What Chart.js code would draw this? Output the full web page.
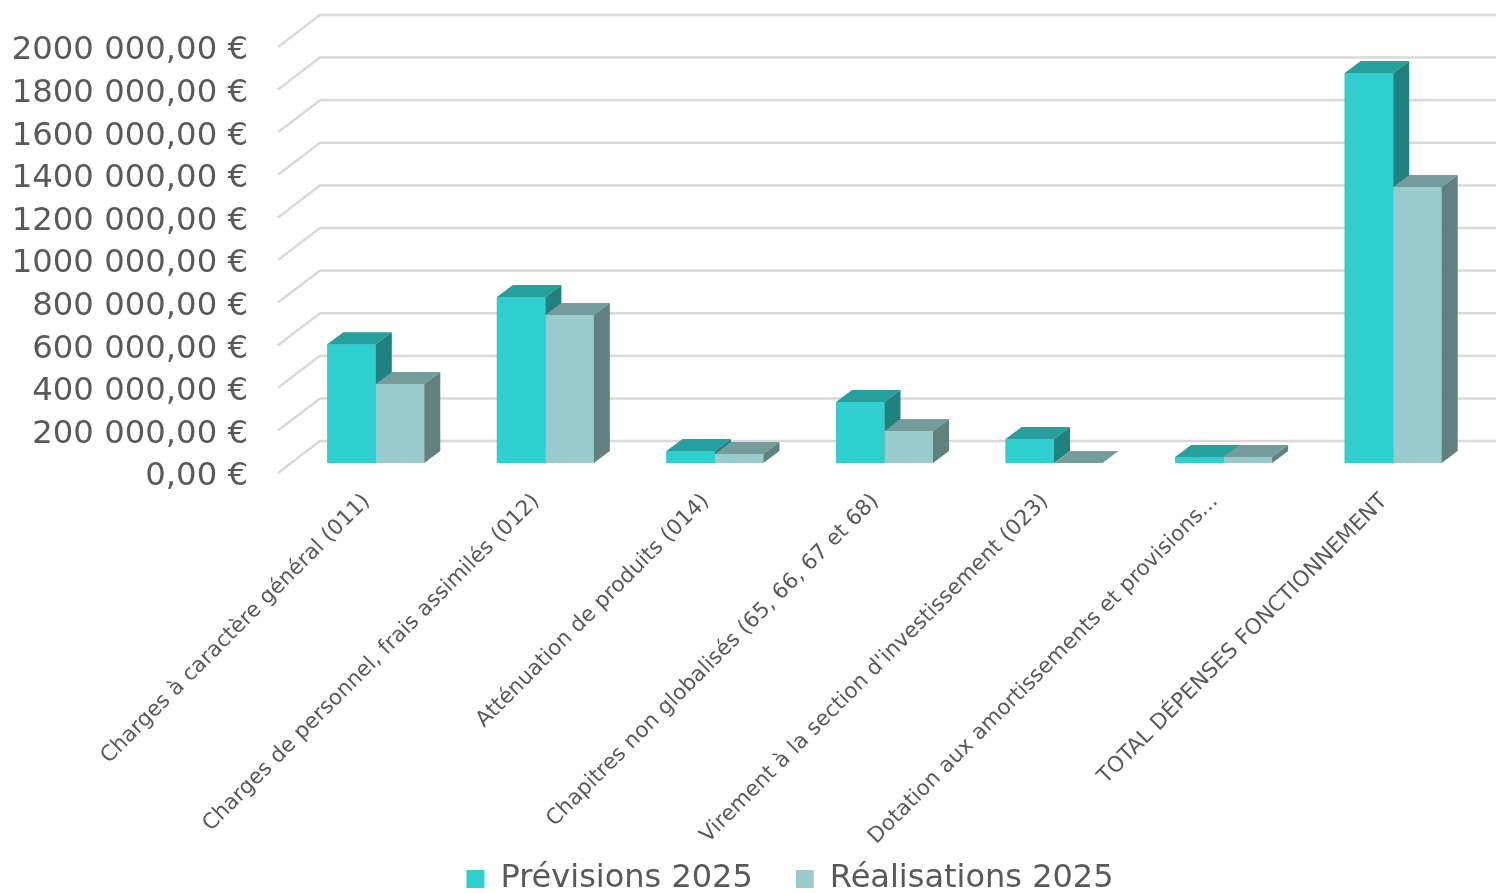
<!DOCTYPE html>
<html>
<head>
<meta charset="utf-8">
<title>Dépenses de fonctionnement 2025</title>
<script src="https://cdn.jsdelivr.net/npm/chart.js@4"></script>
<style>
  html, body { margin: 0; padding: 0; background: #fff; overflow: hidden; }
  canvas { display: block; }
</style>
</head>
<body>
<canvas id="chart" width="1496" height="893"></canvas>
<script>
// donnees
const categories = [
    'Charges à caractère général (011)',
    'Charges de personnel, frais assimilés (012)',
    'Atténuation de produits (014)',
    'Chapitres non globalisés (65, 66, 67 et 68)',
    "Virement à la section d'investissement (023)",
    'Dotation aux amortissements et provisions...',
    'TOTAL DÉPENSES FONCTIONNEMENT'
];
const previsions = [558000, 779000, 56000, 286000, 113000, 28000, 1831000];
const realisations = [371000, 695000, 42000, 150000, 0, 28000, 1296000];
const yTicks = [0, 200000, 400000, 600000, 800000, 1000000, 1200000, 1400000, 1600000, 1800000, 2000000];

const colors = {
    prev: { front: '#30cfcf', top: '#269f9d', side: '#20827f' },
    real: { front: '#99cbcc', top: '#749c9a', side: '#618180' }
};
const depthX = 16, depthY = 12;      // profondeur des barres
const wallX = 41, wallY = 32;        // profondeur du mur du fond
const textColor = '#595959';
const gridColor = '#d9d9d9';

function face(ctx, pts, color) {
    ctx.fillStyle = color;
    ctx.beginPath();
    ctx.moveTo(pts[0][0], pts[0][1]);
    pts.slice(1).forEach(p => ctx.lineTo(p[0], p[1]));
    ctx.closePath();
    ctx.fill();
}

// grille en perspective (mur du fond + diagonales)
const wallPlugin = {
    id: 'wall',
    beforeDatasetsDraw(chart) {
        const ctx = chart.ctx;
        const y = chart.scales.y;
        const left = y.right - 12;
        ctx.save();
        ctx.strokeStyle = gridColor;
        ctx.lineWidth = 2.5;
        yTicks.forEach(v => {
            const py = y.getPixelForValue(v);
            ctx.beginPath();
            ctx.moveTo(left - 1, py);
            ctx.lineTo(left + wallX, py - wallY);
            ctx.lineTo(chart.width, py - wallY);
            ctx.stroke();
        });
        ctx.restore();
    }
};

// redessine les barres de gauche a droite avec leurs faces du dessus et de droite
const facesPlugin = {
    id: 'faces',
    afterDatasetsDraw(chart) {
        const ctx = chart.ctx;
        chart.data.datasets.forEach((ds, i) => {
            chart.getDatasetMeta(i).data.forEach(bar => {
                const l = bar.x - bar.width / 2, r = bar.x + bar.width / 2;
                const t = bar.y, b = bar.base;
                bar.draw(ctx);
                face(ctx, [[l, t], [r, t], [r + depthX, t - depthY], [l + depthX, t - depthY]], ds.faces.top);
                if (b - t > 0.5) {
                    face(ctx, [[r, t], [r + depthX, t - depthY], [r + depthX, b - depthY], [r, b]], ds.faces.side);
                }
            });
        });
    }
};

// la legende n'est pas centree dans l'original, et les libelles descendent jusqu'a elle
const legendPlugin = {
    id: 'legendShift',
    afterLayout(chart) {
        const legend = chart.legend;
        legend.left += 51;
        legend.right += 51;
        legend.top = 820;
        chart.scales.x.bottom = 860;
        chart.scales.x.height = 387;
    }
};

new Chart(document.getElementById('chart'), {
    type: 'bar',
    data: {
        labels: categories,
        datasets: [
            { label: 'Prévisions 2025', data: previsions, yAxisID: 'bars', backgroundColor: colors.prev.front, faces: colors.prev },
            { label: 'Réalisations 2025', data: realisations, yAxisID: 'bars', backgroundColor: colors.real.front, faces: colors.real }
        ]
    },
    options: {
        responsive: false,
        animation: false,
        layout: { padding: { top: 47, right: 18, left: 0, bottom: 0 } },
        datasets: { bar: { barPercentage: 1, categoryPercentage: 0.572 } },
        plugins: {
            tooltip: { enabled: false },
            legend: {
                position: 'bottom',
                labels: {
                    color: textColor,
                    font: { family: 'DejaVu Sans', size: 32 },
                    boxWidth: 18,
                    boxHeight: 18,
                    padding: 43
                }
            }
        },
        scales: {
            x: {
                grid: { display: false },
                border: { display: false },
                afterFit(scale) { scale.height = 335; },
                ticks: {
                    color: textColor,
                    font: { family: 'DejaVu Sans', size: 21.5 },
                    autoSkip: false,
                    minRotation: 45,
                    maxRotation: 45,
                    labelOffset: -9,
                    padding: 8
                }
            },
            y: {
                min: 0,
                max: 2000000,
                grid: { display: false },
                border: { display: false },
                afterFit(scale) {
                    scale.width = 291;
                    scale.paddingTop = 0;
                    scale.paddingBottom = 0;
                },
                afterBuildTicks(scale) { scale.ticks = yTicks.map(v => ({ value: v })); },
                ticks: {
                    color: textColor,
                    font: { family: 'DejaVu Sans', size: 32.3 },
                    autoSkip: false,
                    padding: 35,
                    labelOffset: 4,
                    callback: v => v === 0 ? '0,00 €' : (v / 1000) + ' 000,00 €'
                }
            },
            // meme hauteur de pixels mais le zero des barres est 10px plus haut que celui de l'axe
            bars: {
                display: false,
                min: -46948,
                max: 1953052
            }
        }
    },
    plugins: [wallPlugin, facesPlugin, legendPlugin]
});
</script>
</body>
</html>
